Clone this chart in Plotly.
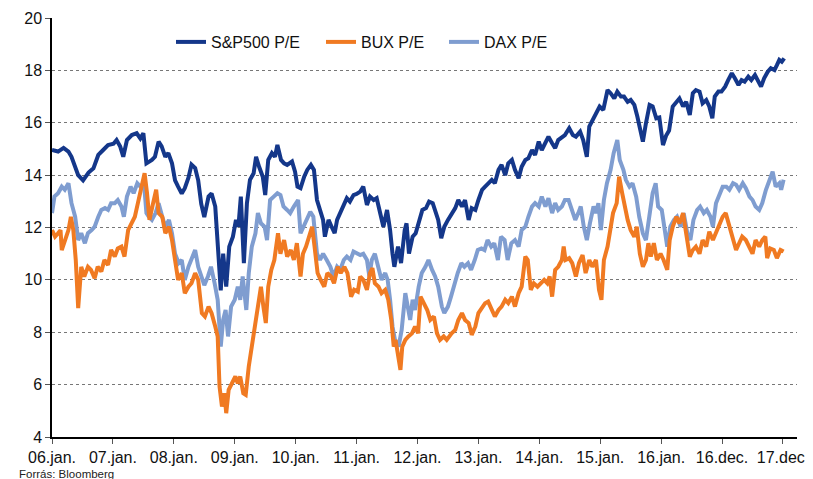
import plotly.graph_objects as go

# x positions in years after 2006 jan (tick 0 = 06.jan.)
tick_pos = list(range(13))
tick_text = ["06.jan.", "07.jan.", "08.jan.", "09.jan.", "10.jan.", "11.jan.", "12.jan.",
             "13.jan.", "14.jan.", "15.jan.", "16.jan.", "16.dec.", "17.dec."]

sp_t = [0.0, 0.10, 0.19, 0.27, 0.32, 0.38, 0.43, 0.51, 0.60, 0.68, 0.76, 0.84, 0.92, 1.01, 1.06, 1.12,
        1.17, 1.23, 1.31, 1.39, 1.45, 1.50, 1.55, 1.64, 1.69, 1.75, 1.80, 1.86, 1.91, 1.97, 2.02, 2.07,
        2.13, 2.18, 2.24, 2.29, 2.35, 2.40, 2.45, 2.50, 2.57, 2.62, 2.68, 2.73, 2.77, 2.81, 2.86, 2.91,
        2.97, 3.02, 3.06, 3.10, 3.15, 3.20, 3.25, 3.31, 3.35, 3.40, 3.46, 3.50, 3.55, 3.61, 3.66, 3.70,
        3.76, 3.81, 3.86, 3.94, 3.99, 4.03, 4.08, 4.14, 4.19, 4.25, 4.30, 4.35, 4.40, 4.45, 4.48, 4.54,
        4.59, 4.64, 4.68, 4.74, 4.79, 4.84, 4.89, 4.95, 5.00, 5.06, 5.11, 5.17, 5.22, 5.28, 5.33, 5.39,
        5.44, 5.50, 5.55, 5.59, 5.62, 5.68, 5.73, 5.79, 5.82, 5.86, 5.92, 5.97, 6.03, 6.08, 6.14, 6.19,
        6.25, 6.30, 6.34, 6.39, 6.44, 6.50, 6.56, 6.62, 6.67, 6.73, 6.78, 6.84, 6.89, 6.95, 7.00, 7.06,
        7.11, 7.16, 7.22, 7.27, 7.33, 7.38, 7.44, 7.49, 7.55, 7.60, 7.66, 7.71, 7.77, 7.82, 7.88, 7.93,
        7.99, 8.04, 8.10, 8.15, 8.21, 8.26, 8.31, 8.37, 8.42, 8.49, 8.55, 8.60, 8.67, 8.72, 8.78, 8.82,
        8.88, 8.93, 8.99, 9.05, 9.12, 9.17, 9.23, 9.28, 9.34, 9.39, 9.45, 9.50, 9.56, 9.61, 9.66, 9.70,
        9.75, 9.81, 9.86, 9.92, 9.97, 10.03, 10.08, 10.13, 10.19, 10.25, 10.30, 10.36, 10.41, 10.47,
        10.52, 10.57, 10.63, 10.68, 10.74, 10.79, 10.84, 10.88, 10.94, 10.99, 11.05, 11.10, 11.16,
        11.21, 11.27, 11.32, 11.37, 11.43, 11.48, 11.54, 11.59, 11.64, 11.69, 11.75, 11.80, 11.86,
        11.90, 11.94, 11.98, 12.02]
sp_pe = [14.96, 14.9, 15.04, 14.9, 14.7, 14.3, 14.0, 13.8, 14.1, 14.26, 14.77, 14.96, 15.15, 15.2, 15.34,
         15.09, 14.7, 15.34, 15.53, 15.6, 15.4, 15.6, 14.45, 14.58, 14.7, 15.28, 15.1, 14.7, 14.84, 14.45,
         13.8, 13.56, 13.3, 13.5, 13.9, 14.4, 14.27, 13.8, 12.9, 12.4, 13.18, 13.3, 12.8, 11.03, 9.6, 11.0,
         9.74, 11.27, 11.65, 12.29, 12.03, 13.18, 10.64, 12.93, 13.82, 14.07, 14.7, 14.32, 13.94, 13.24,
         14.58, 14.84, 14.7, 15.15, 14.58, 14.45, 14.39, 14.52, 14.13, 13.56, 13.5, 13.94, 14.2, 14.39,
         14.2, 13.05, 12.67, 12.29, 11.65, 12.29, 12.03, 11.78, 12.29, 12.6, 12.86, 13.12, 12.99, 13.24,
         13.28, 13.37, 13.56, 12.86, 13.18, 13.05, 13.12, 12.6, 12.03, 12.67, 11.9, 11.0, 10.5, 11.27,
         10.64, 11.9, 12.16, 11.0, 11.65, 11.78, 12.29, 12.67, 12.74, 12.99, 12.93, 12.55, 12.29, 11.59,
         12.03, 12.29, 12.55, 12.74, 13.05, 12.8, 13.05, 12.29, 12.74, 12.67, 13.05, 13.44, 13.56, 13.69,
         13.82, 13.69, 14.2, 14.39, 14.0, 14.45, 14.58, 14.2, 13.88, 14.32, 14.58, 14.64, 14.96, 14.77,
         15.28, 14.96, 15.22, 15.47, 15.22, 15.03, 15.34, 15.47, 15.53, 15.79, 15.53, 15.47, 15.66, 15.34,
         14.7, 15.85, 16.11, 16.36, 16.62, 16.49, 17.25, 17.13, 16.93, 17.19, 17.0, 17.0, 16.8, 16.87,
         16.68, 16.23, 15.6, 15.28, 15.98, 16.68, 16.62, 16.17, 16.2, 15.15, 15.5, 15.7, 16.62, 16.8,
         16.93, 16.62, 16.8, 16.3, 17.13, 17.25, 17.19, 16.74, 16.87, 16.62, 16.17, 17.0, 17.19, 17.19,
         17.38, 17.63, 17.89, 17.7, 17.44, 17.63, 17.57, 17.76, 17.63, 17.82, 17.63, 17.38, 17.7, 17.95,
         18.08, 18.01, 18.2, 18.4, 18.33, 18.46]

bux_t = [0.0, 0.05, 0.10, 0.14, 0.16, 0.21, 0.27, 0.31, 0.35, 0.39, 0.43, 0.48, 0.53, 0.59, 0.64, 0.70,
         0.75, 0.81, 0.86, 0.92, 0.97, 1.03, 1.08, 1.14, 1.19, 1.25, 1.30, 1.36, 1.41, 1.47, 1.52, 1.56,
         1.60, 1.66, 1.71, 1.75, 1.81, 1.86, 1.92, 1.97, 2.02, 2.07, 2.13, 2.18, 2.24, 2.29, 2.35, 2.40,
         2.46, 2.51, 2.57, 2.62, 2.68, 2.72, 2.75, 2.79, 2.83, 2.86, 2.90, 2.96, 3.01, 3.05, 3.09, 3.14,
         3.18, 3.23, 3.29, 3.34, 3.38, 3.43, 3.47, 3.51, 3.55, 3.60, 3.65, 3.71, 3.75, 3.81, 3.86, 3.92,
         3.97, 4.02, 4.08, 4.12, 4.17, 4.23, 4.27, 4.31, 4.36, 4.41, 4.47, 4.52, 4.58, 4.63, 4.69, 4.74,
         4.80, 4.85, 4.91, 4.96, 5.02, 5.06, 5.11, 5.17, 5.22, 5.26, 5.30, 5.36, 5.41, 5.47, 5.52, 5.57,
         5.61, 5.64, 5.68, 5.72, 5.75, 5.80, 5.85, 5.91, 5.96, 6.01, 6.05, 6.10, 6.16, 6.21, 6.27, 6.32,
         6.37, 6.43, 6.48, 6.56, 6.62, 6.67, 6.73, 6.78, 6.84, 6.89, 6.95, 7.00, 7.06, 7.11, 7.16, 7.22,
         7.27, 7.33, 7.38, 7.44, 7.49, 7.55, 7.60, 7.66, 7.71, 7.77, 7.81, 7.86, 7.91, 7.97, 8.02, 8.08,
         8.13, 8.17, 8.21, 8.26, 8.31, 8.37, 8.40, 8.43, 8.49, 8.54, 8.60, 8.65, 8.71, 8.76, 8.82, 8.87,
         8.93, 8.98, 9.02, 9.06, 9.12, 9.16, 9.21, 9.27, 9.31, 9.36, 9.40, 9.45, 9.50, 9.56, 9.60, 9.65,
         9.70, 9.75, 9.79, 9.83, 9.88, 9.93, 9.99, 10.04, 10.10, 10.14, 10.19, 10.25, 10.30, 10.36,
         10.41, 10.47, 10.52, 10.57, 10.63, 10.68, 10.74, 10.79, 10.85, 10.90, 10.95, 11.01, 11.06,
         11.12, 11.17, 11.23, 11.28, 11.33, 11.39, 11.44, 11.50, 11.55, 11.61, 11.66, 11.71, 11.74,
         11.79, 11.85, 11.90, 11.96, 12.01]
bux_pe = [11.9, 11.65, 11.78, 11.9, 11.14, 11.52, 11.9, 12.41, 11.9, 10.76, 8.92, 10.5, 10.13, 10.5,
          10.38, 10.06, 10.5, 10.32, 10.76, 10.57, 11.14, 10.89, 11.2, 11.27, 10.89, 11.9, 12.16, 12.41,
          12.93, 13.56, 14.07, 13.31, 12.29, 12.93, 13.44, 12.55, 12.41, 11.78, 12.03, 11.52, 10.76, 10.0,
          10.26, 9.49, 9.74, 9.87, 10.26, 10.0, 8.73, 8.6, 8.98, 8.73, 8.22, 7.84, 5.93, 5.16, 5.67, 4.91,
          5.8, 6.05, 6.31, 6.05, 6.31, 5.67, 5.61, 6.69, 7.58, 8.22, 8.98, 9.74, 8.98, 8.35, 9.74, 10.38,
          10.76, 11.78, 11.0, 11.52, 10.89, 11.14, 10.76, 11.4, 10.13, 11.0, 11.27, 11.78, 12.03, 11.27,
          10.26, 10.0, 9.74, 10.26, 10.13, 9.87, 10.5, 10.26, 10.5, 10.26, 9.36, 9.62, 9.55, 10.13, 10.0,
          9.62, 10.26, 10.45, 9.87, 9.74, 9.49, 9.62, 9.24, 8.47, 7.45, 7.71, 7.2, 6.56, 7.45, 7.71, 7.84,
          7.96, 8.22, 7.96, 9.36, 9.11, 8.85, 8.47, 8.6, 7.96, 7.71, 7.84, 7.71, 7.96, 8.09, 8.47, 8.73,
          8.47, 8.35, 7.9, 8.22, 8.73, 8.98, 9.11, 9.17, 8.85, 8.6, 8.85, 8.98, 9.24, 9.11, 9.36, 8.98,
          9.49, 9.74, 10.89, 10.76, 9.62, 9.87, 9.74, 9.87, 10.0, 9.87, 10.13, 9.36, 10.38, 10.5, 10.76,
          11.27, 10.76, 10.83, 10.64, 10.13, 10.64, 10.95, 10.26, 10.76, 10.5, 10.76, 9.62, 9.24, 10.76,
          11.27, 11.9, 12.55, 12.93, 13.94, 13.31, 12.8, 12.29, 11.9, 11.65, 12.03, 11.0, 10.5, 10.76,
          11.4, 10.89, 11.4, 10.76, 11.0, 10.76, 10.38, 11.52, 12.03, 12.41, 12.16, 12.55, 11.78, 10.89,
          11.14, 11.27, 11.0, 11.52, 11.27, 11.84, 11.52, 11.78, 12.03, 12.41, 12.55, 12.03, 11.65, 11.14,
          11.4, 11.65, 11.52, 11.27, 11.0, 11.52, 11.27, 11.52, 11.65, 10.83, 11.2, 11.14, 10.83, 11.14,
          11.08]

dax_t = [0.0, 0.04, 0.10, 0.16, 0.21, 0.27, 0.32, 0.38, 0.43, 0.48, 0.54, 0.59, 0.65, 0.70, 0.76, 0.81,
         0.87, 0.92, 0.97, 1.03, 1.08, 1.14, 1.18, 1.23, 1.29, 1.34, 1.40, 1.45, 1.51, 1.55, 1.59, 1.64,
         1.70, 1.75, 1.81, 1.86, 1.92, 1.97, 2.02, 2.08, 2.13, 2.18, 2.24, 2.29, 2.35, 2.40, 2.46, 2.50,
         2.56, 2.61, 2.67, 2.72, 2.77, 2.81, 2.85, 2.89, 2.94, 3.00, 3.05, 3.09, 3.13, 3.19, 3.23, 3.28,
         3.34, 3.38, 3.43, 3.49, 3.53, 3.58, 3.64, 3.70, 3.75, 3.80, 3.86, 3.91, 3.97, 4.04, 4.08, 4.13,
         4.19, 4.24, 4.29, 4.35, 4.40, 4.45, 4.51, 4.57, 4.62, 4.68, 4.73, 4.79, 4.84, 4.90, 4.95, 5.01,
         5.06, 5.11, 5.17, 5.21, 5.25, 5.30, 5.36, 5.41, 5.47, 5.51, 5.55, 5.59, 5.63, 5.69, 5.74, 5.80,
         5.84, 5.88, 5.92, 5.96, 6.02, 6.07, 6.13, 6.18, 6.24, 6.29, 6.34, 6.40, 6.44, 6.50, 6.55, 6.61,
         6.66, 6.72, 6.77, 6.83, 6.88, 6.94, 6.99, 7.05, 7.10, 7.15, 7.21, 7.26, 7.32, 7.37, 7.43, 7.48,
         7.54, 7.60, 7.66, 7.71, 7.77, 7.82, 7.88, 7.93, 7.99, 8.04, 8.10, 8.15, 8.21, 8.26, 8.31, 8.37,
         8.42, 8.48, 8.53, 8.59, 8.64, 8.68, 8.73, 8.78, 8.83, 8.89, 8.93, 8.97, 9.01, 9.06, 9.11, 9.17,
         9.22, 9.28, 9.32, 9.38, 9.42, 9.48, 9.53, 9.59, 9.64, 9.70, 9.75, 9.81, 9.86, 9.91, 9.95, 10.01,
         10.06, 10.10, 10.15, 10.21, 10.26, 10.32, 10.37, 10.43, 10.48, 10.53, 10.59, 10.64, 10.70,
         10.75, 10.81, 10.85, 10.90, 10.96, 11.01, 11.07, 11.12, 11.18, 11.23, 11.28, 11.34, 11.39,
         11.45, 11.50, 11.55, 11.61, 11.66, 11.72, 11.77, 11.83, 11.88, 11.94, 11.97, 12.01]
dax_pe = [12.55, 13.18, 13.31, 13.56, 13.44, 13.69, 12.93, 12.41, 11.52, 11.78, 11.4, 11.78, 11.9, 12.03,
          12.41, 12.67, 12.74, 12.67, 12.93, 12.93, 13.05, 12.8, 12.41, 13.18, 13.56, 13.31, 13.69, 13.56,
          13.69, 12.55, 12.41, 12.29, 12.55, 12.93, 12.41, 12.03, 12.29, 11.78, 11.0, 10.64, 10.76, 10.0,
          10.5, 10.76, 11.14, 10.5, 10.0, 9.8, 10.13, 10.5, 9.87, 9.24, 7.45, 8.47, 8.85, 7.84, 8.98, 9.24,
          9.74, 9.24, 10.13, 8.85, 10.26, 11.27, 11.78, 12.55, 12.16, 12.03, 11.52, 13.05, 13.18, 13.31,
          13.24, 12.8, 12.67, 12.55, 12.8, 13.05, 11.78, 12.03, 12.41, 12.6, 12.41, 11.0, 10.76, 11.0,
          10.76, 10.5, 10.13, 10.5, 10.38, 10.76, 10.89, 10.76, 11.08, 11.0, 10.95, 11.0, 10.76, 10.13,
          10.76, 11.0, 10.38, 10.0, 10.26, 10.0, 9.24, 8.22, 7.71, 7.45, 8.09, 9.49, 8.98, 8.47, 9.24, 8.85,
          9.74, 10.26, 10.5, 10.76, 10.38, 10.13, 9.74, 8.98, 8.73, 8.98, 9.36, 9.87, 10.26, 10.64, 10.5,
          10.64, 10.38, 10.76, 11.14, 11.2, 11.14, 11.52, 11.27, 11.4, 10.76, 11.65, 11.52, 10.76, 11.4,
          11.52, 11.27, 11.9, 12.03, 12.41, 12.8, 12.93, 12.8, 13.18, 12.8, 13.12, 12.55, 12.93, 12.67,
          12.8, 13.05, 13.05, 12.67, 12.29, 12.55, 12.8, 12.03, 11.52, 12.16, 12.8, 12.55, 12.93, 11.9,
          13.05, 13.69, 14.2, 14.84, 15.34, 14.58, 14.2, 13.82, 13.56, 13.69, 13.18, 12.41, 11.78, 11.52,
          12.55, 13.31, 13.69, 12.8, 12.67, 11.9, 11.27, 12.03, 12.29, 12.41, 12.03, 12.55, 11.78, 11.52,
          12.29, 12.67, 12.8, 12.55, 12.67, 12.41, 12.03, 12.93, 13.31, 13.56, 13.56, 13.44, 13.69, 13.63,
          13.44, 13.69, 13.5, 13.18, 13.05, 12.8, 12.67, 12.93, 13.44, 13.76, 14.13, 13.56, 13.69, 13.44,
          13.82]

FONT = "Liberation Sans, Arial, sans-serif"

# the page adds an 8px body margin, so the figure is 8px smaller and everything is shifted
W, H = 805, 471
L, R, T, B = 44, 16, 10, 42
PW, PH = W - L - R, H - T - B


def px_x(p):
    return (p - L) / PW


def px_y(p):
    return 1 - (p - T) / PH


fig = go.Figure()
# draw light lines first so the dark one sits on top
fig.add_trace(go.Scatter(x=dax_t, y=dax_pe, mode="lines", name="DAX P/E", legend="legend3",
                         line=dict(color="#7f9dd0", width=4)))
fig.add_trace(go.Scatter(x=bux_t, y=bux_pe, mode="lines", name="BUX P/E", legend="legend2",
                         line=dict(color="#f07a22", width=4)))
fig.add_trace(go.Scatter(x=sp_t, y=sp_pe, mode="lines", name="S&P500 P/E", legend="legend",
                         line=dict(color="#14378a", width=4)))

leg = dict(orientation="h", y=px_y(34), xanchor="left", yanchor="middle", itemwidth=30,
           font=dict(size=16, color="#111111"), bgcolor="rgba(0,0,0,0)")

fig.update_layout(
    width=W, height=H,
    margin=dict(l=L, r=R, t=T, b=B),
    showlegend=True,
    plot_bgcolor="white", paper_bgcolor="white",
    font=dict(family=FONT, size=16, color="#111111"),
    legend=dict(leg, x=px_x(163)),
    legend2=dict(leg, x=px_x(313)),
    legend3=dict(leg, x=px_x(436)),
    xaxis=dict(range=[0, 12.23], tickvals=tick_pos, ticktext=tick_text, automargin=False,
               showgrid=False, zeroline=False, showline=True, linecolor="black", linewidth=1.5,
               ticks="outside", ticklen=5, tickcolor="#555555"),
    yaxis=dict(range=[4, 20], dtick=2, tick0=4, automargin=False, showgrid=True,
               gridcolor="#777777", griddash="dot", gridwidth=1, zeroline=False, showline=True,
               linecolor="black", linewidth=1.5, ticks="outside", ticklen=5, tickcolor="#555555"),
    annotations=[dict(text="Forrás: Bloomberg", x=px_x(9), y=px_y(466), xref="paper", yref="paper",
                      xanchor="left", yanchor="middle", showarrow=False,
                      font=dict(size=11.5, color="#222222"))],
)

fig.write_html("out.html")
